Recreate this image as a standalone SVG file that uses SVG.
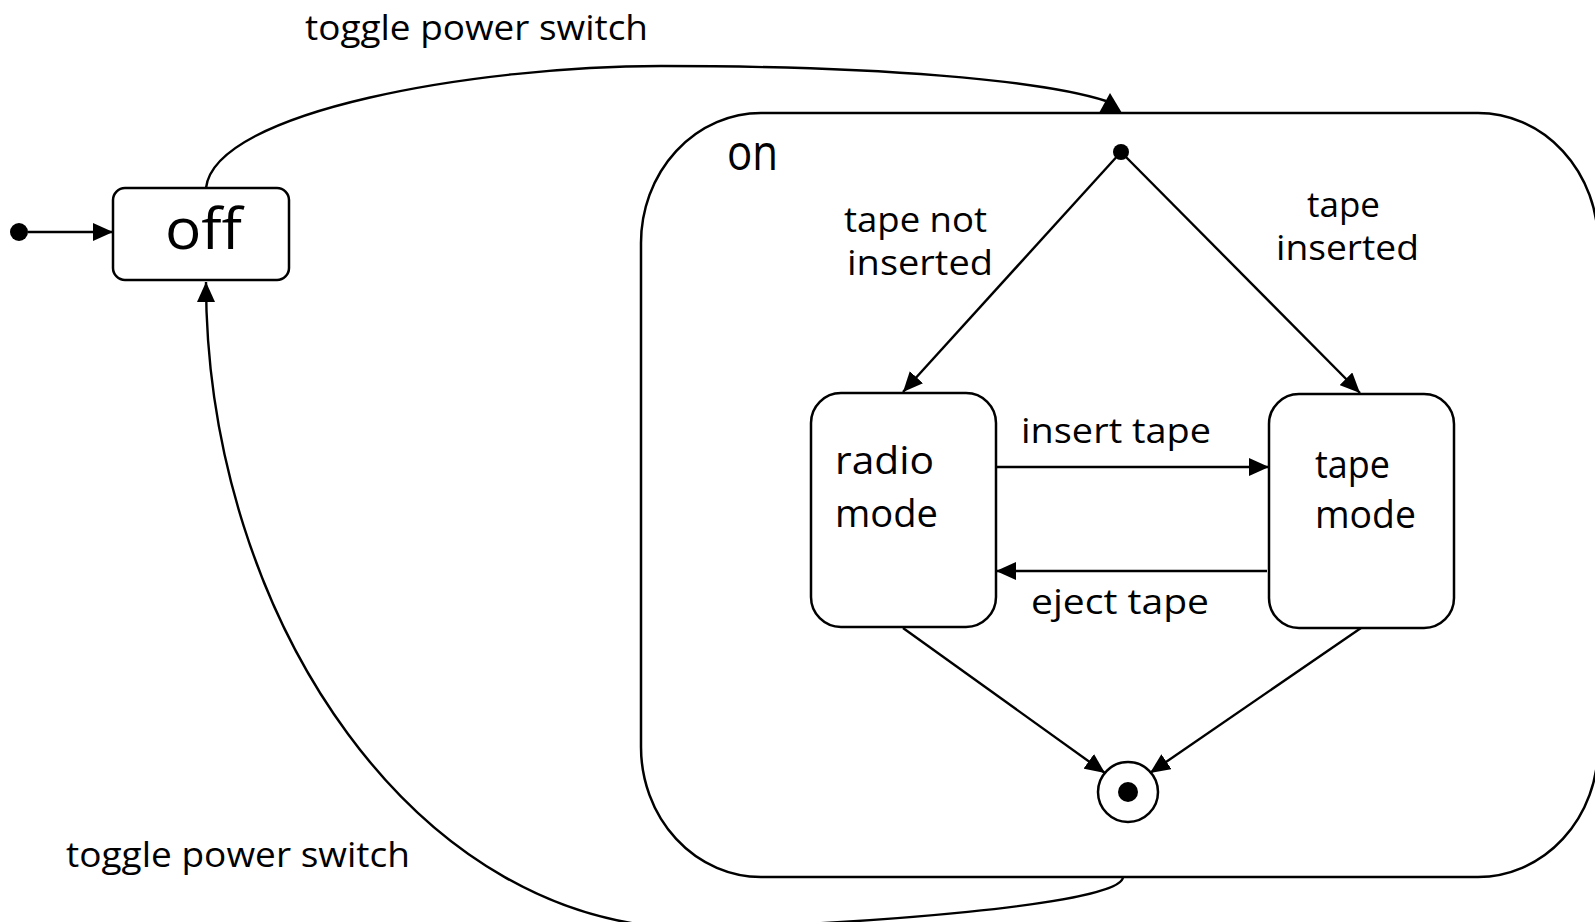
<svg xmlns="http://www.w3.org/2000/svg" width="1595" height="922" viewBox="0 0 1595 922">
<defs>
<marker id="arr" viewBox="0 0 20 18" refX="20" refY="9" markerWidth="20" markerHeight="18" markerUnits="userSpaceOnUse" orient="auto">
<path d="M0,0 L20,9 L0,18 z" fill="#000"/>
</marker>
<style>
.box{fill:#fff;stroke:#000;stroke-width:2.5}
.ln{fill:none;stroke:#000;stroke-width:2.4}
.t{font-family:"Comic Sans MS","Open Sans","DejaVu Sans",sans-serif;fill:#000}
.lbl{font-size:34px}
.st{font-size:39px}
</style>
</defs>
<rect width="1595" height="922" fill="#fff"/>
<g id="on">
<rect class="box" x="641" y="113" width="957" height="764" rx="120" ry="130"/>
<text class="t" x="727" y="170" font-size="50" textLength="51" lengthAdjust="spacingAndGlyphs">on</text>
</g>
<g id="off">
<rect class="box" x="113" y="188" width="176" height="92" rx="12"/>
<text class="t" x="165" y="249" font-size="56" textLength="77" lengthAdjust="spacingAndGlyphs">off</text>
</g>
<g id="init-outer">
<circle cx="19" cy="232" r="9" fill="#000"/>
</g>
<g id="init-inner">
<circle cx="1121" cy="152" r="8" fill="#000"/>
</g>
<g id="radio">
<rect class="box" x="811" y="393" width="185" height="234" rx="30"/>
<text class="t st" x="835" y="474" textLength="99" lengthAdjust="spacingAndGlyphs">radio</text>
<text class="t st" x="835" y="527" textLength="103" lengthAdjust="spacingAndGlyphs">mode</text>
</g>
<g id="tape">
<rect class="box" x="1269" y="394" width="185" height="234" rx="30"/>
<text class="t st" x="1315" y="478" textLength="75" lengthAdjust="spacingAndGlyphs">tape</text>
<text class="t st" x="1315" y="528" textLength="101" lengthAdjust="spacingAndGlyphs">mode</text>
</g>
<g id="final">
<circle cx="1128" cy="792" r="30" fill="#fff" stroke="#000" stroke-width="2.5"/>
<circle cx="1128" cy="792" r="10" fill="#000"/>
</g>
<g id="connectors">
<path class="ln" d="M28,232 L113,232" marker-end="url(#arr)"/>
<path class="ln" d="M206,188 C215,110 480,66 661,66 C880,66 1040,80 1106,101"/>
<polygon points="1110,93 1099,113 1122,113" fill="#000"/>
<path class="ln" d="M1123,877 C1123,905 850,925 700,928 C420,934 206,620 206,282" marker-end="url(#arr)"/>
<path class="ln" d="M1121,152 L903,392" marker-end="url(#arr)"/>
<path class="ln" d="M1121,152 L1360,393" marker-end="url(#arr)"/>
<path class="ln" d="M996,467 L1269,467" marker-end="url(#arr)"/>
<path class="ln" d="M1267,571 L996,571" marker-end="url(#arr)"/>
<path class="ln" d="M903,628 L1105,773" marker-end="url(#arr)"/>
<path class="ln" d="M1361,628 L1150,773" marker-end="url(#arr)"/>
</g>
<g id="labels">
<text class="t lbl" x="305" y="40" textLength="343" lengthAdjust="spacingAndGlyphs">toggle power switch</text>
<text class="t lbl" x="66" y="867" textLength="344" lengthAdjust="spacingAndGlyphs">toggle power switch</text>
<text class="t lbl" x="844" y="232" textLength="143" lengthAdjust="spacingAndGlyphs">tape not</text>
<text class="t lbl" x="847" y="275" textLength="146" lengthAdjust="spacingAndGlyphs">inserted</text>
<text class="t lbl" x="1307" y="217" textLength="73" lengthAdjust="spacingAndGlyphs">tape</text>
<text class="t lbl" x="1276" y="260" textLength="143" lengthAdjust="spacingAndGlyphs">inserted</text>
<text class="t lbl" x="1021" y="443" textLength="190" lengthAdjust="spacingAndGlyphs">insert tape</text>
<text class="t lbl" x="1031" y="614" textLength="178" lengthAdjust="spacingAndGlyphs">eject tape</text>
</g>
</svg>
